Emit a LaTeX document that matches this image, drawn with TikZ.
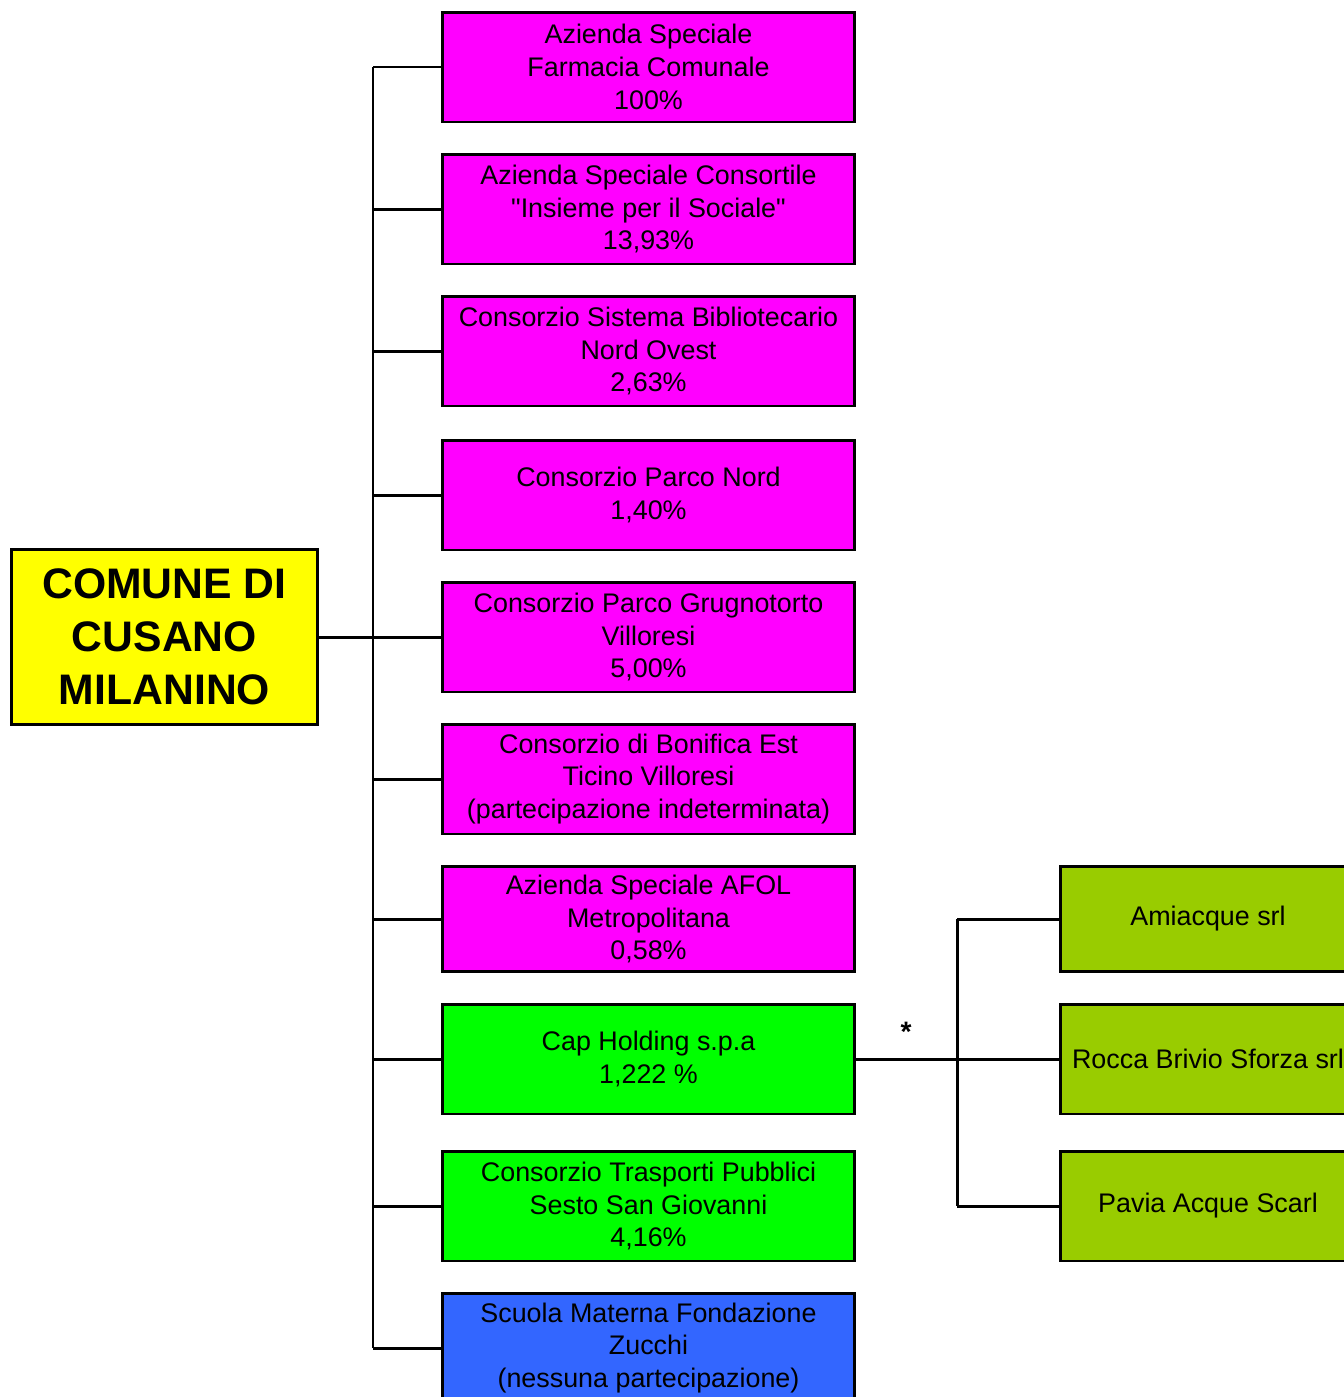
\documentclass[tikz,border=0pt]{standalone}
\usepackage{fontspec}
\setmainfont{Liberation Sans}
\definecolor{magbox}{HTML}{FF00FF}
\definecolor{yelbox}{HTML}{FFFF00}
\definecolor{grnbox}{HTML}{00FF00}
\definecolor{blubox}{HTML}{3366FF}
\definecolor{olvbox}{HTML}{99CC00}
\tikzset{
  ent/.style={draw,line width=1.7pt,minimum width=8.26cm,minimum height=2.2cm,
    align=center,inner sep=0pt,font=\fontsize{15.3}{18.7}\selectfont},
  sub/.style={ent,fill=olvbox,minimum width=5.92cm},
}
\begin{document}
\begin{tikzpicture}[x=0.02cm,y=-0.02cm,line width=1.7pt]
      \useasboundingbox (0,0) rectangle (1344,1397);
      \path (164.5,637) node[draw,line width=1.7pt,fill=yelbox,minimum width=6.14cm,minimum height=3.5cm,
        align=center,font=\fontsize{24.3}{30}\selectfont\bfseries] (root) {COMUNE DI\\CUSANO\\MILANINO};

      \path (648.5,67)   node[ent,fill=magbox] (a1)  {Azienda Speciale\\Farmacia Comunale\\100\%};
      \path (648.5,209)  node[ent,fill=magbox] (a2)  {Azienda Speciale Consortile\\\textquotedbl Insieme per il Sociale\textquotedbl\\13,93\%};
      \path (648.5,351)  node[ent,fill=magbox] (a3)  {Consorzio Sistema Bibliotecario\\Nord Ovest\\2,63\%};
      \path (648.5,495)  node[ent,fill=magbox] (a4)  {Consorzio Parco Nord\\1,40\%};
      \path (648.5,637)  node[ent,fill=magbox] (a5)  {Consorzio Parco Grugnotorto\\Villoresi\\5,00\%};
      \path (648.5,779)  node[ent,fill=magbox] (a6)  {Consorzio di Bonifica Est\\Ticino Villoresi\\(partecipazione indeterminata)};
      \path (648.5,919)  node[ent,fill=magbox,minimum height=2.1cm] (a7)  {Azienda Speciale AFOL\\Metropolitana\\0,58\%};
      \path (648.5,1059) node[ent,fill=grnbox] (a8)  {Cap Holding s.p.a\\1,222 \%};
      \path (648.5,1206) node[ent,fill=grnbox] (a9)  {Consorzio Trasporti Pubblici\\Sesto San Giovanni\\4,16\%};
      \path (648.5,1348) node[ent,fill=blubox] (a10) {Scuola Materna Fondazione\\Zucchi\\(nessuna partecipazione)};

      \path (1208,919)  node[sub,minimum height=2.1cm] (b1) {Amiacque srl};
      \path (1208,1059) node[sub] (b2) {Rocca Brivio Sforza srl};
      \path (1208,1206) node[sub] (b3) {Pavia Acque Scarl};

      \coordinate (s1) at (373,67);
      \coordinate (s2) at (373,1348);
      \coordinate (t1) at (957,919);
      \coordinate (t2) at (957,1206);

      \draw (s1) -- (s2); %spine
      \draw (root) -- (a5); %root-a5
      \foreach \n in {1,2,3,4,6,7,8,9,10}
        \draw (a\n.west) -- (a\n.west -| s1);
      \draw (t1) -- (t2); %right spine
      \draw (a8) -- (b2); %cap-rocca
      \draw (b1.west) -- (t1); %amiacque
      \draw (b3.west) -- (t2); %pavia
      \path (906,1032) node[font=\fontsize{16}{16}\selectfont\bfseries] (star) {*};
\end{tikzpicture}
\end{document}
